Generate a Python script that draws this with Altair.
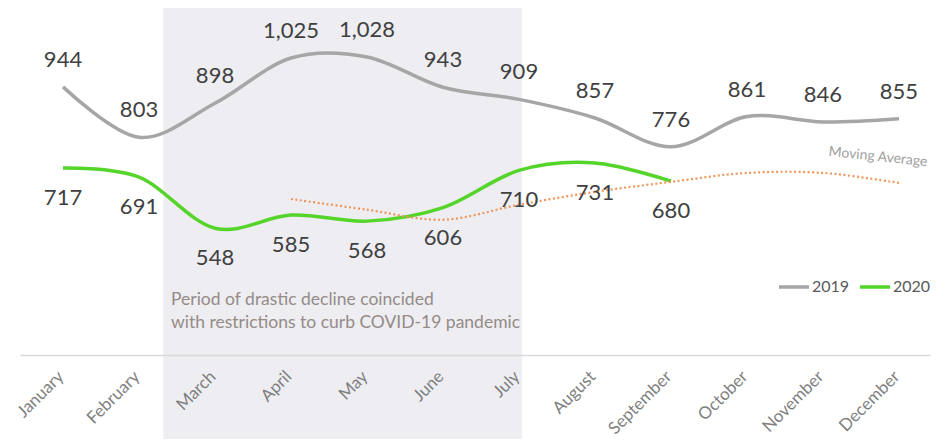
import altair as alt
import pandas as pd

months = ["January", "February", "March", "April", "May", "June", "July",
          "August", "September", "October", "November", "December"]
values_2019 = [944, 803, 898, 1025, 1028, 943, 909, 857, 776, 861, 846, 855]
values_2020 = [717, 691, 548, 585, 568, 606, 710, 731, 680]
# moving average trendline, April..December
ma_months = ["April", "May", "June", "July", "August", "September", "October", "November", "December"]
ma_values = [630, 600, 572, 614, 650, 678, 703, 703, 675]

# highlighted period (month index positions)
shade_start = 1.32
shade_end = 6.04

rows = []
for i, v in enumerate(values_2019):
    rows.append({"idx": i, "month": months[i], "value": v, "series": "2019"})
for i, v in enumerate(values_2020):
    rows.append({"idx": i, "month": months[i], "value": v, "series": "2020"})
df = pd.DataFrame(rows)
ma_df = pd.DataFrame({"idx": [months.index(m) for m in ma_months], "value": ma_values})
shade_df = pd.DataFrame({"x0": [shade_start], "x1": [shade_end]})

FONT = "Lato"
label_expr = "[" + ",".join("'%s'" % m for m in months) + "][datum.value]"

xscale = alt.Scale(domain=[-0.566, 11.408], nice=False, zero=False)
yscale = alt.Scale(domain=[193, 1165], nice=False, zero=False)

x_axis = alt.Axis(values=list(range(12)), labelExpr=label_expr, labelAngle=-45,
                  labelFontSize=17, labelColor="#7f7f7f", labelFont=FONT,
                  ticks=False, grid=False, domainColor="#d9d9d9", domainWidth=1.5,
                  labelPadding=13, labelOffset=-8, labelOverlap=False, title=None, zindex=1)

shade = alt.Chart(shade_df).mark_rect(color="#ededf2").encode(
    x=alt.X("x0:Q", scale=xscale, axis=x_axis),
    x2="x1:Q",
    y=alt.value(0),
    y2=alt.value(431),
)

lines = alt.Chart(df).mark_line(strokeWidth=3.5, interpolate="cardinal").encode(
    x=alt.X("idx:Q", scale=xscale, axis=x_axis),
    y=alt.Y("value:Q", scale=yscale, axis=None),
    color=alt.Color("series:N",
                    scale=alt.Scale(domain=["2019", "2020"], range=["#a6a6a6", "#55d42a"]),
                    legend=alt.Legend(orient="none", legendX=757, legendY=262,
                                      direction="horizontal", title=None,
                                      symbolType="stroke", symbolSize=900,
                                      symbolStrokeWidth=3.5, labelFontSize=16,
                                      labelFont=FONT, labelColor="#595959",
                                      labelOffset=1, columnPadding=3)),
)

ma = alt.Chart(ma_df).mark_line(strokeWidth=2.2, strokeDash=[2, 2.5], color="#f0955a",
                                interpolate="cardinal").encode(
    x=alt.X("idx:Q", scale=xscale),
    y=alt.Y("value:Q", scale=yscale),
)

labels_2019 = alt.Chart(df).transform_filter("datum.series == '2019'").mark_text(
    dy=-27, fontSize=22, font=FONT, color="#404040").encode(
    x=alt.X("idx:Q", scale=xscale),
    y=alt.Y("value:Q", scale=yscale),
    text=alt.Text("value:Q", format=","),
)
labels_2020 = alt.Chart(df).transform_filter("datum.series == '2020'").mark_text(
    dy=30, fontSize=22, font=FONT, color="#404040").encode(
    x=alt.X("idx:Q", scale=xscale),
    y=alt.Y("value:Q", scale=yscale),
    text=alt.Text("value:Q", format=","),
)

annotation = alt.Chart(pd.DataFrame({"t": ["Period of drastic decline coincided\nwith restrictions to curb COVID-19 pandemic"]})).mark_text(
    align="left", baseline="middle", fontSize=17.5, font=FONT, color="#958b87",
    lineBreak="\n", lineHeight=23).encode(
    x=alt.value(151), y=alt.value(292), text="t:N")

ma_label = alt.Chart(pd.DataFrame({"t": ["Moving Average"]})).mark_text(
    align="center", baseline="middle", fontSize=14, font=FONT, color="#a0a0a0",
    angle=6).encode(x=alt.value(858), y=alt.value(149), text="t:N")

chart = alt.layer(shade, lines, ma, labels_2019, labels_2020, annotation, ma_label).properties(
    width=910, height=347,
    autosize=alt.AutoSizeParams(type="none"),
    padding={"left": 12, "top": 0, "right": 8, "bottom": 84},
).configure_view(stroke=None)

chart.save("out.html", embed_options={"renderer": "svg", "actions": False})
